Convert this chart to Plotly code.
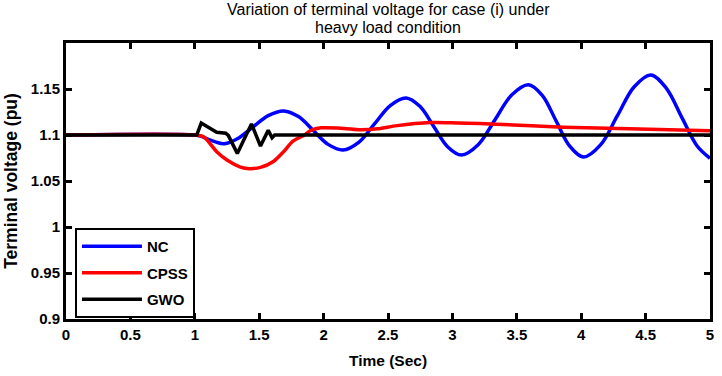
import plotly.graph_objects as go

# ---- data ----
nc_t = [0, 1.0, 1.05, 1.1, 1.16, 1.23, 1.33, 1.45, 1.57, 1.69, 1.805, 1.92, 2.035, 2.15,
        2.2725, 2.395, 2.5175, 2.64, 2.7475, 2.855, 2.9625, 3.07, 3.2, 3.33, 3.46, 3.59,
        3.6975, 3.805, 3.9125, 4.02, 4.15, 4.28, 4.41, 4.54, 4.66, 4.785, 4.9, 5.0]
nc_v = [1.1, 1.1, 1.0985, 1.0955, 1.0925, 1.0905, 1.0959, 1.1085, 1.1210, 1.1262, 1.1200, 1.1049, 1.0898, 1.0836,
        1.0919, 1.1120, 1.1320, 1.1403, 1.1312, 1.1093, 1.0873, 1.0782, 1.0894, 1.1164, 1.1434, 1.1546,
        1.1431, 1.1154, 1.0876, 1.0761, 1.0892, 1.1207, 1.1522, 1.1653, 1.151, 1.118, 1.088, 1.0747]

cpss_t = [0, 1.0, 1.07, 1.17, 1.25, 1.38, 1.51, 1.61, 1.69, 1.76, 1.85, 1.9, 1.98, 2.11, 2.27,
          2.42, 2.57, 2.83, 3.04, 3.34, 3.86, 4.37, 5.0]
cpss_v = [1.1, 1.1, 1.0978, 1.0819, 1.0729, 1.0641, 1.0648, 1.0712, 1.0819, 1.0932, 1.1, 1.1049, 1.1078, 1.1075, 1.1058,
          1.1067, 1.1102, 1.1135, 1.1131, 1.1118, 1.1085, 1.1067, 1.1045]

gwo_t = [0, 1.0, 1.015, 1.05, 1.11, 1.17, 1.24, 1.26, 1.33, 1.44, 1.51, 1.57, 1.60, 1.62, 5.0]
gwo_v = [1.1, 1.1, 1.1, 1.113, 1.1085, 1.103, 1.102, 1.0996, 1.080, 1.112, 1.088, 1.105, 1.097, 1.1, 1.1]

x_ticks = [0, 0.5, 1, 1.5, 2, 2.5, 3, 3.5, 4, 4.5, 5]
x_ticktext = ["0", "0.5", "1", "1.5", "2", "2.5", "3", "3.5", "4", "4.5", "5"]
y_ticks = [0.9, 0.95, 1.0, 1.05, 1.1, 1.15]
y_ticktext = ["0.9", "0.95", "1", "1.05", "1.1", "1.15"]

FONT = "Liberation Sans, Arial, sans-serif"

fig = go.Figure()
fig.add_trace(go.Scatter(x=nc_t, y=nc_v, mode="lines", name="NC", legendgroup="a",
                         line=dict(color="#0000FF", width=3.5, shape="spline", smoothing=1.0)))
fig.add_trace(go.Scatter(x=cpss_t, y=cpss_v, mode="lines", name="CPSS", legendgroup="b",
                         line=dict(color="#FF0000", width=3.5, shape="spline", smoothing=0.8)))
fig.add_trace(go.Scatter(x=gwo_t, y=gwo_v, mode="lines", name="GWO", legendgroup="c",
                         line=dict(color="#000000", width=3.5)))

axis_common = dict(showline=True, linecolor="black", linewidth=3, mirror="ticks",
                   ticks="inside", ticklen=6, tickwidth=3, tickcolor="black",
                   showgrid=False, zeroline=False,
                   tickfont=dict(family=FONT, size=15, color="black", weight="bold"))

fig.update_xaxes(range=[0, 5], tickvals=x_ticks, ticktext=x_ticktext,
                 title=dict(text="<b>Time (Sec)</b>", font=dict(family=FONT, size=15.5, color="black"), standoff=14),
                 **axis_common)
fig.update_yaxes(range=[0.9, 1.2], tickvals=y_ticks, ticktext=y_ticktext,
                 title=dict(text="<b>Terminal voltage (pu)</b>", font=dict(family=FONT, size=17.5, color="black"), standoff=9),
                 **axis_common)

# plot area spans paper y 0..1 over 284 px (43 -> 327)
fig.add_annotation(text="Variation of terminal voltage for case (i) under", xref="paper", yref="paper",
                   x=0.5, y=1.120, xanchor="center", yanchor="middle", showarrow=False,
                   font=dict(family=FONT, size=16, color="black"))
fig.add_annotation(text="heavy load condition", xref="paper", yref="paper",
                   x=0.5, y=1.0563, xanchor="center", yanchor="middle", showarrow=False,
                   font=dict(family=FONT, size=16, color="black"))

fig.update_layout(
    width=722, height=376,
    margin=dict(l=66, r=8, t=43, b=49),
    paper_bgcolor="white", plot_bgcolor="white",
    showlegend=True,
    legend=dict(x=0.0139, y=0.33, xanchor="left", yanchor="top",
                bgcolor="white", bordercolor="black", borderwidth=2,
                font=dict(family=FONT, size=15, color="black", weight="bold"),
                tracegroupgap=4, itemwidth=60),
)

fig.write_html("out.html")
